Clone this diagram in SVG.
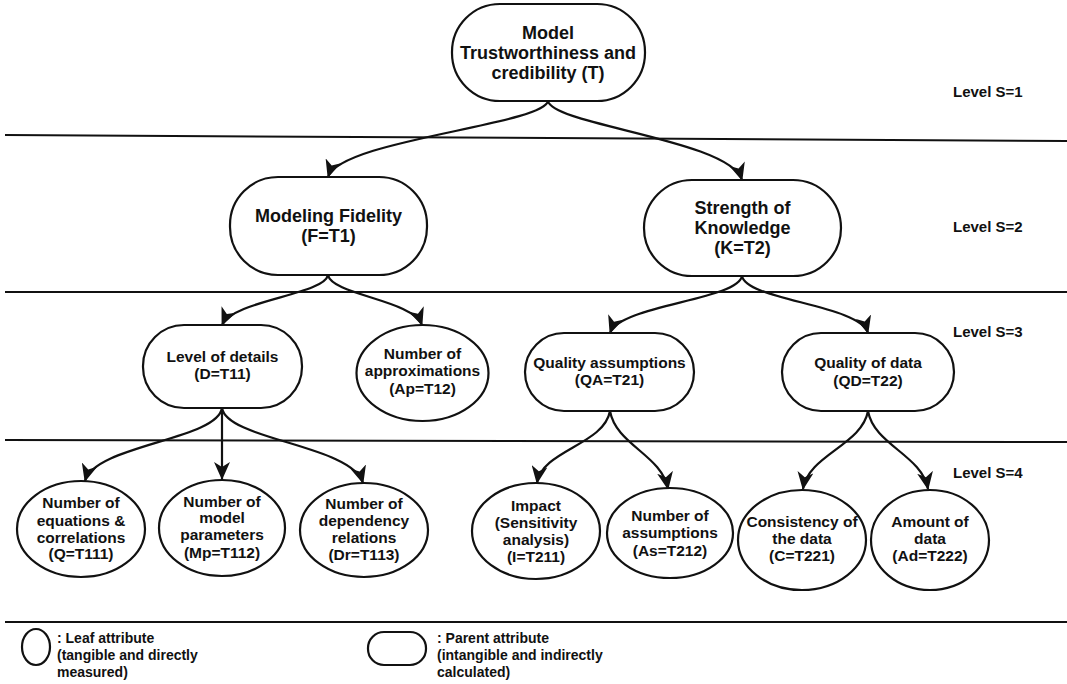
<svg xmlns="http://www.w3.org/2000/svg" width="1067" height="684" viewBox="0 0 1067 684">
<style>
text{font-family:"Liberation Sans",Arial,sans-serif;font-weight:bold;fill:#111;text-anchor:middle}
.big{font-size:18px}
.mid{font-size:15.5px}
.lvl{font-size:15px;text-anchor:start}
.leg{font-size:14px;text-anchor:start}
.node{fill:#fff;stroke:#111;stroke-width:2.2}
.sep{stroke:#111;stroke-width:2;fill:none}
.edge{fill:none;stroke:#111;stroke-width:2.2;marker-end:url(#arr)}
</style>
<defs>
<marker id="arr" markerUnits="userSpaceOnUse" markerWidth="18" markerHeight="16" refX="17" refY="8" orient="auto">
<path d="M0,0 L18,8 L0,16 L5,8 z" fill="#111"/>
</marker>
</defs>
<rect width="1067" height="684" fill="#fff"/>
<g id="separators">
<line class="sep" x1="5" y1="135" x2="1067" y2="141"/>
<line class="sep" x1="5" y1="292" x2="1067" y2="292"/>
<line class="sep" x1="5" y1="440" x2="1067" y2="442"/>
<line class="sep" x1="5" y1="622" x2="1067" y2="622"/>
</g>
<g id="levels">
<text class="lvl" x="953" y="97">Level S=1</text>
<text class="lvl" x="953" y="232">Level S=2</text>
<text class="lvl" x="953" y="337">Level S=3</text>
<text class="lvl" x="953" y="478">Level S=4</text>
</g>
<g id="connectors">
<path class="edge" d="M548,101 C543,125 340,140 328,177"/>
<path class="edge" d="M548,101 C553,125 730,140 742,180"/>
<path class="edge" d="M328,275 C324,295 233,300 222,325"/>
<path class="edge" d="M328,275 C332,295 413,300 422,325"/>
<path class="edge" d="M742,276 C738,300 620,305 610,333"/>
<path class="edge" d="M742,276 C746,300 860,305 868,333"/>
<path class="edge" d="M222,408 C217,440 95,445 85,481"/>
<path class="edge" d="M222,408 L222,479"/>
<path class="edge" d="M222,408 C227,440 352,445 363,483"/>
<path class="edge" d="M610,411 C604,445 542,450 537,483"/>
<path class="edge" d="M610,411 C616,445 662,455 668,489"/>
<path class="edge" d="M868,411 C862,445 808,455 803,489"/>
<path class="edge" d="M868,411 C874,445 922,455 928,489"/>
</g>
<g id="T">
<rect class="node" x="452" y="4" width="193" height="97" rx="48" ry="48"/>
<text class="big" x="548" y="38.5">Model</text>
<text class="big" x="548" y="58.5">Trustworthiness and</text>
<text class="big" x="548" y="78.5">credibility (T)</text>
</g>
<g id="T1">
<rect class="node" x="230" y="177" width="197" height="98" rx="48" ry="48"/>
<text class="big" x="328.5" y="221.5">Modeling Fidelity</text>
<text class="big" x="328.5" y="241.5">(F=T1)</text>
</g>
<g id="T2">
<rect class="node" x="644" y="180" width="197" height="96" rx="48" ry="48"/>
<text class="big" x="742.5" y="213.5">Strength of</text>
<text class="big" x="742.5" y="233.5">Knowledge</text>
<text class="big" x="742.5" y="253.5">(K=T2)</text>
</g>
<g id="T11">
<rect class="node" x="143" y="325" width="159" height="83" rx="41" ry="41"/>
<text class="mid" x="222.5" y="361.5">Level of details</text>
<text class="mid" x="222.5" y="378.5">(D=T11)</text>
</g>
<g id="T12">
<ellipse class="node" cx="422.5" cy="373" rx="66" ry="48"/>
<text class="mid" x="422.5" y="358.5">Number of</text>
<text class="mid" x="422.5" y="375.5">approximations</text>
<text class="mid" x="422.5" y="393.5">(Ap=T12)</text>
</g>
<g id="T21">
<rect class="node" x="525" y="333" width="169" height="78" rx="39" ry="39"/>
<text class="mid" x="609.5" y="367.5">Quality assumptions</text>
<text class="mid" x="609.5" y="384.5">(QA=T21)</text>
</g>
<g id="T22">
<rect class="node" x="782" y="333" width="172" height="78" rx="39" ry="39"/>
<text class="mid" x="868" y="367.5">Quality of data</text>
<text class="mid" x="868" y="385.5">(QD=T22)</text>
</g>
<g id="T111">
<ellipse class="node" cx="81" cy="529" rx="64" ry="48"/>
<text class="mid" x="81" y="507.5">Number of</text>
<text class="mid" x="81" y="525.5">equations &amp;</text>
<text class="mid" x="81" y="542.5">correlations</text>
<text class="mid" x="81" y="558.5">(Q=T111)</text>
</g>
<g id="T112">
<ellipse class="node" cx="222" cy="528" rx="63" ry="48"/>
<text class="mid" x="222" y="506.5">Number of</text>
<text class="mid" x="222" y="522.5">model</text>
<text class="mid" x="222" y="539.5">parameters</text>
<text class="mid" x="222" y="557.5">(Mp=T112)</text>
</g>
<g id="T113">
<ellipse class="node" cx="364" cy="530" rx="64" ry="47"/>
<text class="mid" x="364" y="508.5">Number of</text>
<text class="mid" x="364" y="525.5">dependency</text>
<text class="mid" x="364" y="542.5">relations</text>
<text class="mid" x="364" y="559.5">(Dr=T113)</text>
</g>
<g id="T211">
<ellipse class="node" cx="536" cy="531" rx="64" ry="48"/>
<text class="mid" x="536" y="510.5">Impact</text>
<text class="mid" x="536" y="527.5">(Sensitivity</text>
<text class="mid" x="536" y="544.5">analysis)</text>
<text class="mid" x="536" y="561.5">(I=T211)</text>
</g>
<g id="T212">
<ellipse class="node" cx="670" cy="533" rx="63" ry="45"/>
<text class="mid" x="670" y="520.5">Number of</text>
<text class="mid" x="670" y="537.5">assumptions</text>
<text class="mid" x="670" y="555.5">(As=T212)</text>
</g>
<g id="T221">
<ellipse class="node" cx="802" cy="540" rx="64" ry="50"/>
<text class="mid" x="802" y="526.5">Consistency of</text>
<text class="mid" x="802" y="543.5">the data</text>
<text class="mid" x="802" y="560.5">(C=T221)</text>
</g>
<g id="T222">
<ellipse class="node" cx="930" cy="540" rx="59" ry="50"/>
<text class="mid" x="930" y="526.5">Amount of</text>
<text class="mid" x="930" y="543.5">data</text>
<text class="mid" x="930" y="560.5">(Ad=T222)</text>
</g>
<g id="legend">
<ellipse class="node" cx="36" cy="647" rx="14" ry="18"/>
<text class="leg" x="57" y="643">: Leaf attribute</text>
<text class="leg" x="57" y="660">(tangible and directly</text>
<text class="leg" x="57" y="677">measured)</text>
<rect class="node" x="368" y="632" width="58" height="33" rx="16" ry="16"/>
<text class="leg" x="437" y="643">: Parent attribute</text>
<text class="leg" x="437" y="660">(intangible and indirectly</text>
<text class="leg" x="437" y="677">calculated)</text>
</g>
</svg>
